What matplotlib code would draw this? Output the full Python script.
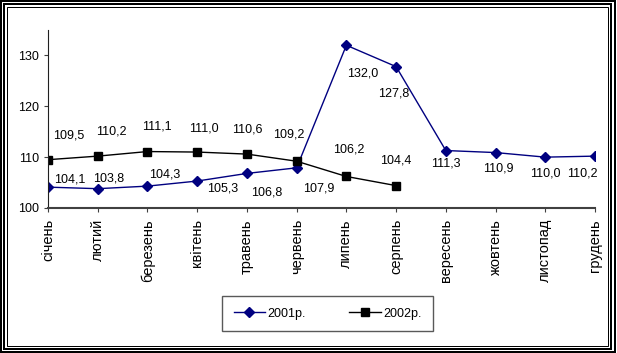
import matplotlib
matplotlib.use('Agg')
import matplotlib.pyplot as plt
from matplotlib import font_manager
from matplotlib.patches import Rectangle

months = ['січень', 'лютий', 'березень', 'квітень', 'травень', 'червень',
          'липень', 'серпень', 'вересень', 'жовтень', 'листопад', 'грудень']
y2001 = [104.1, 103.8, 104.3, 105.3, 106.8, 107.9, 132.0, 127.8, 111.3, 110.9, 110.0, 110.2]
y2002 = [109.5, 110.2, 111.1, 111.0, 110.6, 109.2, 106.2, 104.4]
series_names = ['2001р.', '2002р.']
yticks = [100, 110, 120, 130]

# label offsets in pixels (dx, dy)
off2001 = [(22, 8), (11, 10), (17, 12), (25, -7), (20, -19), (22, -21),
           (16, -28), (-2, -27), (0, -13), (3, -16), (0, -16), (-13, -17)]
off2002 = [(21, 24), (14, 25), (9, 25), (7, 24), (0, 25), (-8, 27), (2, 27), (0, 25)]

names = {f.name for f in font_manager.fontManager.ttflist}
fam = 'Liberation Sans Narrow' if 'Liberation Sans Narrow' in names else 'Liberation Sans'
plt.rcParams['font.family'] = [fam, 'DejaVu Sans']
fs = 9

fig = plt.figure(figsize=(6.17, 3.53), dpi=100)
W, H = 617, 353

# frame
for x0, y0, x1, y1, lw in [(1, 1, 615, 352, 2), (4, 4, 611, 349, 2), (6.5, 6.5, 608, 346, 1)]:
    fig.patches.append(Rectangle((x0 / W, 1 - y1 / H), (x1 - x0) / W, (y1 - y0) / H,
                                 transform=fig.transFigure, fill=False,
                                 edgecolor='black', linewidth=lw * 0.72))

ax = fig.add_axes([48 / W, 1 - 208 / H, 547 / W, 178 / H])
x = list(range(len(months)))
ax.plot(x, y2001, color='#000080', marker='D', markersize=5, linewidth=1, label=series_names[0])
ax.plot(x[:len(y2002)], y2002, color='black', marker='s', markersize=5.5, linewidth=1,
        label=series_names[1])

for xi, v, (dx, dy) in zip(x, y2001, off2001):
    ax.annotate(f'{v:.1f}'.replace('.', ','), (xi, v), xytext=(dx, dy),
                textcoords='offset pixels', ha='center', va='center', fontsize=fs)
for xi, v, (dx, dy) in zip(x, y2002, off2002):
    ax.annotate(f'{v:.1f}'.replace('.', ','), (xi, v), xytext=(dx, dy),
                textcoords='offset pixels', ha='center', va='center', fontsize=fs)

ax.set_xlim(0, 11)
ax.set_ylim(100, 135)
ax.set_yticks(yticks)
ax.set_xticks(x)
ax.set_xticklabels(months, rotation=90, fontsize=10.5, family=['Liberation Sans', 'DejaVu Sans'])
ax.tick_params(axis='y', labelsize=fs, length=3, direction='out', color='#404040')
ax.tick_params(axis='x', length=3, direction='out', color='#404040', pad=5)
for s in ['top', 'right']:
    ax.spines[s].set_visible(False)
ax.spines['left'].set_color('#202020')
ax.spines['bottom'].set_color('#404040')
ax.spines['bottom'].set_linewidth(1.5)
ax.set_facecolor('none')

leg = fig.legend(loc='center', bbox_to_anchor=(327.5 / W, 1 - 313.5 / H), ncol=2,
                 fontsize=fs, frameon=True, fancybox=False, edgecolor='#303030',
                 borderpad=0.9, columnspacing=3.5, handlelength=2.5, handletextpad=0.2)
leg.get_frame().set_linewidth(1)

fig.savefig('out.png', dpi=100)
